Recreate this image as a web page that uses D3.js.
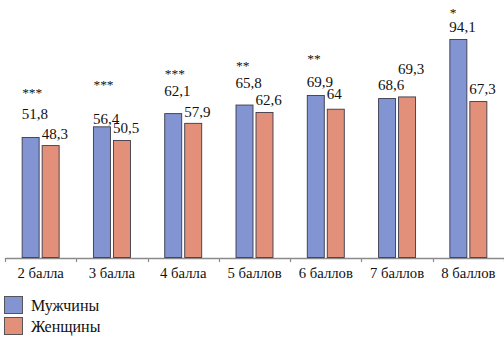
<!DOCTYPE html>
<html><head><meta charset="utf-8">
<script src="https://cdn.jsdelivr.net/npm/d3@7"></script>
</head><body style="margin:0;background:#fff"><svg id="c" width="504" height="338" font-family="Liberation Serif"></svg>
<script>
const categories = ["2 балла","3 балла","4 балла","5 баллов","6 баллов","7 баллов","8 баллов"];
const men   = [51.8, 56.4, 62.1, 65.8, 69.9, 68.6, 94.1];
const women = [48.3, 50.5, 57.9, 62.6, 64, 69.3, 67.3];
const labelsMen   = ["51,8","56,4","62,1","65,8","69,9","68,6","94,1"];
const labelsWomen = ["48,3","50,5","57,9","62,6","64","69,3","67,3"];
const stars = ["***","***","***","**","**","","*"];
const seriesNames = ["Мужчины","Женщины"];
// layout: extra lift of value labels (px) as placed in the original
const liftMen   = [18, 3, 18, 17, 9, 9, 7];
const liftWomen = [7, 7, 6, 7, 10, 23, 8];
const liftStars = [40, 38, 36, 35, 33, 0, 22];

const colors = ["#8294d2", "#e3907a"];
const svg = d3.select("#c");
const x = d3.scaleBand().domain(categories).range([5, 504]).padding(0);
const y = d3.scaleLinear().domain([0, 100]).range([257.5, 25.8]);
const bw = 17, gap = 1.5;

// axis
const axis = d3.axisBottom(x).tickSize(0).tickPadding(10);
const g = svg.append("g").attr("transform", "translate(0,258)").call(axis);
g.attr("font-family", "Liberation Serif").attr("font-size", 16);
g.select(".domain").attr("stroke", "#8a8a8a").attr("stroke-width", 1.3);
g.selectAll(".tick text").attr("fill", "#111").attr("transform", "scale(0.92)");
const bounds = categories.map(c => x(c)).concat([x(categories[categories.length-1]) + x.bandwidth()]);
svg.selectAll("line.sep").data(bounds).enter().append("line")
  .attr("x1", d => Math.round(d) + 0.5).attr("x2", d => Math.round(d) + 0.5)
  .attr("y1", 258).attr("y2", 262).attr("stroke", "#8a8a8a").attr("stroke-width", 1.2);

const cx = c => x(c) + x.bandwidth() / 2;
const barX = (si, i) => si === 0 ? cx(categories[i]) - gap - bw : cx(categories[i]) + gap;
const series = [men, women];
series.forEach((vals, si) => {
  svg.selectAll("rect.s" + si).data(vals).enter().append("rect")
    .attr("x", (d, i) => barX(si, i))
    .attr("y", d => y(d))
    .attr("width", bw)
    .attr("height", d => y(0) - y(d))
    .attr("fill", colors[si])
    .attr("stroke", "#3a3a4a").attr("stroke-width", 0.9);
});

const labs = [labelsMen, labelsWomen], lifts = [liftMen, liftWomen];
series.forEach((vals, si) => {
  svg.selectAll("text.l" + si).data(vals).enter().append("text")
    .attr("transform", (d, i) => `translate(${barX(si, i) - 0.5},${y(d) - lifts[si][i]}) scale(0.94)`)
    .attr("font-family", "Liberation Serif").attr("font-size", 16).attr("fill", "#111")
    .text((d, i) => labs[si][i]);
});

svg.selectAll("text.star").data(men).enter().append("text")
  .attr("transform", (d, i) => `translate(${barX(0, i)},${y(d) - liftStars[i]}) scale(0.84)`)
  .attr("font-family", "Liberation Serif").attr("font-size", 16).attr("fill", "#111")
  .text((d, i) => stars[i]);

// legend
seriesNames.forEach((n, i) => {
  svg.append("rect").attr("x", 4.5).attr("y", 296.5 + i * 21).attr("width", 18).attr("height", 17)
    .attr("fill", colors[i]).attr("stroke", "#555").attr("stroke-width", 1);
  svg.append("text").attr("x", 31).attr("y", 311 + i * 21)
    .attr("font-family", "Liberation Serif").attr("font-size", 16).attr("fill", "#111").text(n);
});
</script></body></html>
